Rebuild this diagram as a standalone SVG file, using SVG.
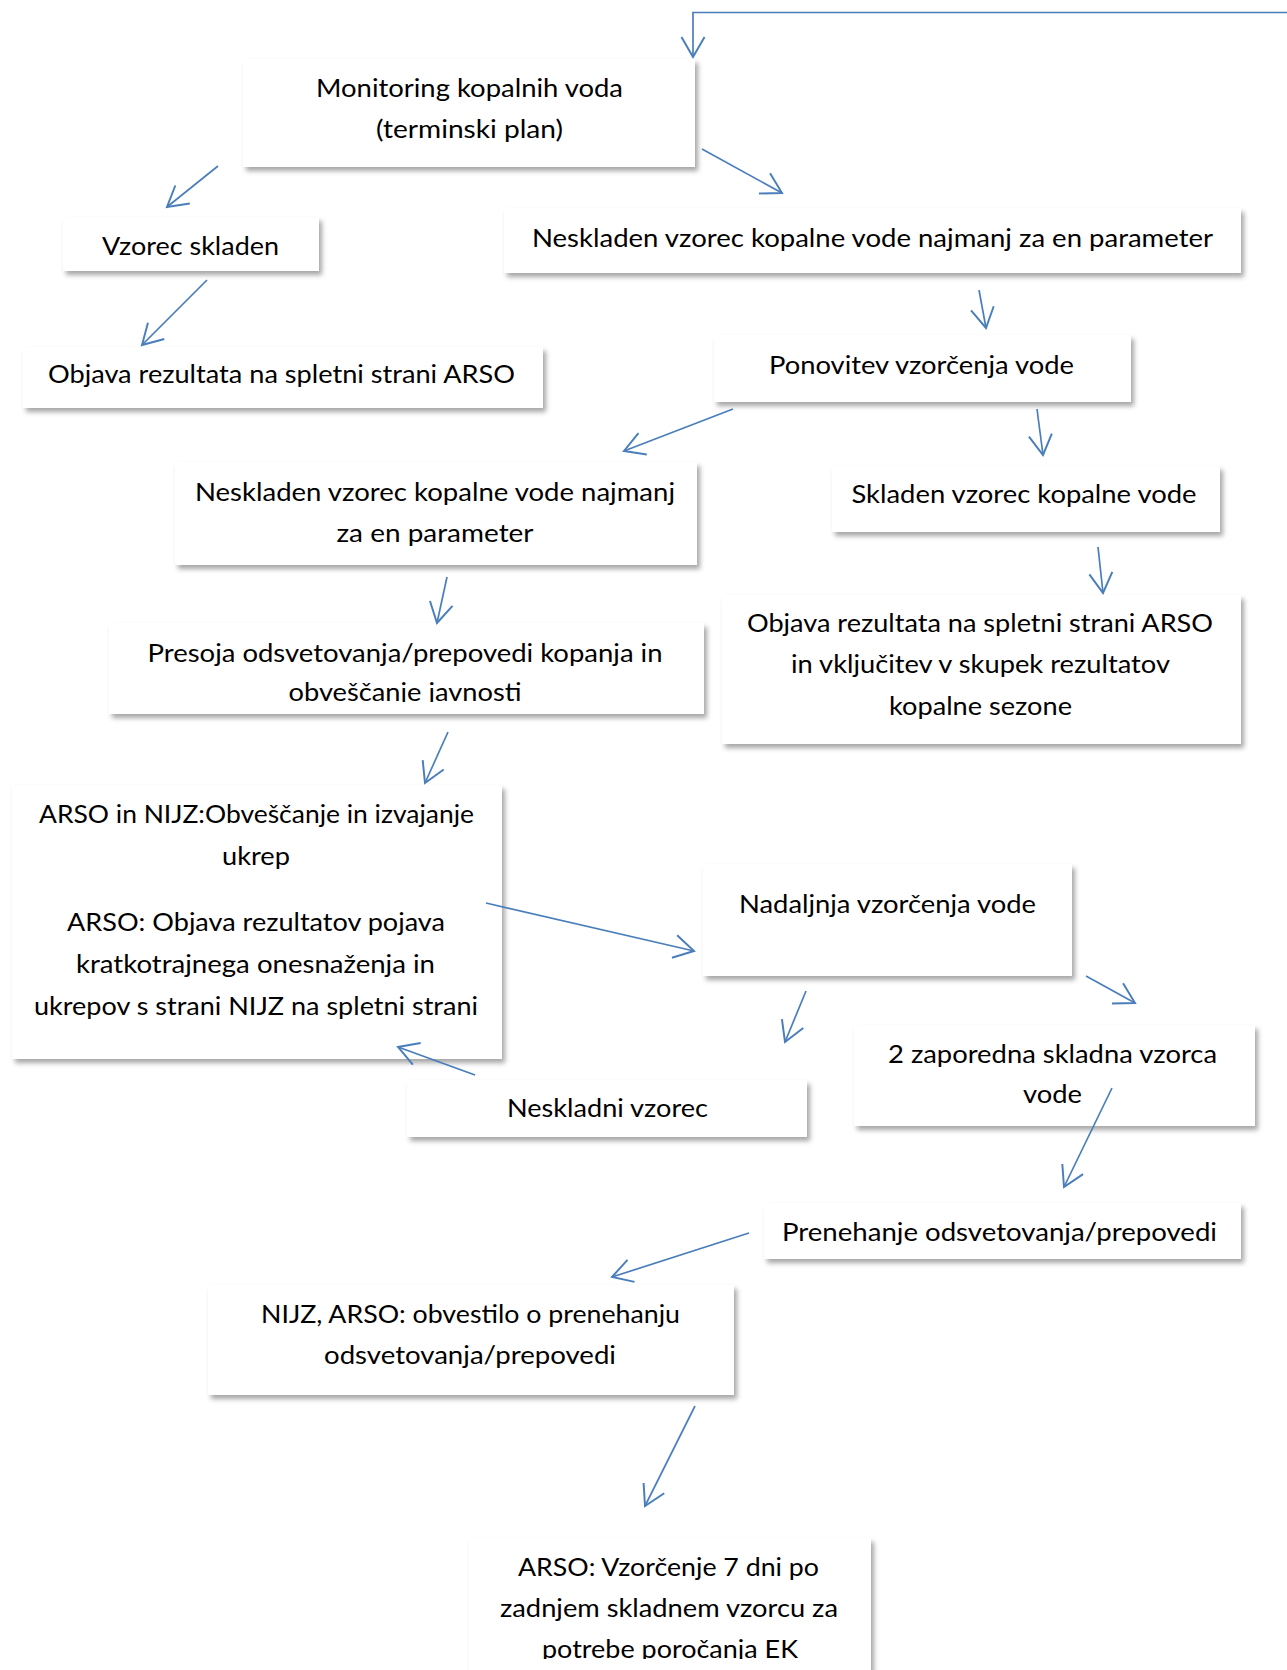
<svg xmlns="http://www.w3.org/2000/svg" width="1287" height="1670" viewBox="0 0 1287 1670">
<style>
.box{fill:#fff;filter:url(#sh)}
.t{font-family:Lato,"Open Sans","Liberation Sans",sans-serif;font-size:25px;fill:#000;text-anchor:middle}
.c{fill:none;stroke:#4A7EBB;stroke-width:1.7;marker-end:url(#ah)}
</style>
<defs>
<filter id="sh" x="-10%" y="-20%" width="125%" height="150%">
<feDropShadow dx="3" dy="4" stdDeviation="2.5" flood-color="#000" flood-opacity="0.35"/>
</filter>
<marker id="ah" markerUnits="userSpaceOnUse" markerWidth="30" markerHeight="30" viewBox="-22 -13 26 26" refX="0" refY="0" orient="auto">
<path d="M-17.3,-10 L0,0 L-17.3,10" fill="none" stroke="#4A7EBB" stroke-width="1.7"/>
</marker>
<clipPath id="clipPresoja"><rect x="109" y="623" width="595" height="79"/></clipPath>
<clipPath id="clipLast"><rect x="469" y="1538" width="402" height="121"/></clipPath>
</defs>
<rect width="1287" height="1670" fill="#fff"/>

<g id="n-monitoring">
<rect class="box" x="243" y="59" width="452" height="108"/>
<text class="t" x="469.5" y="97" textLength="307" lengthAdjust="spacingAndGlyphs">Monitoring kopalnih voda</text>
<text class="t" x="469.5" y="138" textLength="187" lengthAdjust="spacingAndGlyphs">(terminski plan)</text>
</g>
<g id="n-vzorec-skladen">
<rect class="box" x="63" y="217" width="256" height="54"/>
<text class="t" x="190.5" y="255" textLength="177" lengthAdjust="spacingAndGlyphs">Vzorec skladen</text>
</g>
<g id="n-neskladen1">
<rect class="box" x="504" y="208" width="737" height="65"/>
<text class="t" x="872.5" y="247" textLength="681" lengthAdjust="spacingAndGlyphs">Neskladen vzorec kopalne vode najmanj za en parameter</text>
</g>
<g id="n-objava1">
<rect class="box" x="23" y="347" width="520" height="61"/>
<text class="t" x="281.5" y="383" textLength="467" lengthAdjust="spacingAndGlyphs">Objava rezultata na spletni strani ARSO</text>
</g>
<g id="n-ponovitev">
<rect class="box" x="714" y="335" width="417" height="67"/>
<text class="t" x="921.5" y="374" textLength="305" lengthAdjust="spacingAndGlyphs">Ponovitev vzorčenja vode</text>
</g>
<g id="n-neskladen2">
<rect class="box" x="175" y="462" width="522" height="103"/>
<text class="t" x="435" y="501" textLength="480" lengthAdjust="spacingAndGlyphs">Neskladen vzorec kopalne vode najmanj</text>
<text class="t" x="435" y="542" textLength="197" lengthAdjust="spacingAndGlyphs">za en parameter</text>
</g>
<g id="n-skladen">
<rect class="box" x="832" y="466" width="388" height="66"/>
<text class="t" x="1024" y="503" textLength="345" lengthAdjust="spacingAndGlyphs">Skladen vzorec kopalne vode</text>
</g>
<g id="n-presoja">
<rect class="box" x="109" y="623" width="595" height="91"/>
<g clip-path="url(#clipPresoja)">
<text class="t" x="405" y="662" textLength="515" lengthAdjust="spacingAndGlyphs">Presoja odsvetovanja/prepovedi kopanja in</text>
<text class="t" x="405" y="701" textLength="233" lengthAdjust="spacingAndGlyphs">obveščanje javnosti</text>
</g>
</g>
<g id="n-objava2">
<rect class="box" x="722" y="595" width="519" height="149"/>
<text class="t" x="980" y="632" textLength="466" lengthAdjust="spacingAndGlyphs">Objava rezultata na spletni strani ARSO</text>
<text class="t" x="980.5" y="673" textLength="379" lengthAdjust="spacingAndGlyphs">in vključitev v skupek rezultatov</text>
<text class="t" x="980.5" y="715" textLength="183" lengthAdjust="spacingAndGlyphs">kopalne sezone</text>
</g>
<g id="n-arso-nijz">
<rect class="box" x="12" y="785" width="490" height="274"/>
<text class="t" x="256.5" y="823" textLength="435" lengthAdjust="spacingAndGlyphs">ARSO in NIJZ:Obveščanje in izvajanje</text>
<text class="t" x="256" y="865" textLength="68" lengthAdjust="spacingAndGlyphs">ukrep</text>
<text class="t" x="256" y="931" textLength="378" lengthAdjust="spacingAndGlyphs">ARSO: Objava rezultatov pojava</text>
<text class="t" x="255.5" y="973" textLength="359" lengthAdjust="spacingAndGlyphs">kratkotrajnega onesnaženja in</text>
<text class="t" x="256" y="1015" textLength="444" lengthAdjust="spacingAndGlyphs">ukrepov s strani NIJZ na spletni strani</text>
</g>
<g id="n-nadaljnja">
<rect class="box" x="703" y="864" width="369" height="112"/>
<text class="t" x="887.5" y="913" textLength="297" lengthAdjust="spacingAndGlyphs">Nadaljnja vzorčenja vode</text>
</g>
<g id="n-neskladni">
<rect class="box" x="407" y="1080" width="400" height="57"/>
<text class="t" x="607.5" y="1117" textLength="201" lengthAdjust="spacingAndGlyphs">Neskladni vzorec</text>
</g>
<g id="n-dva-zaporedna">
<rect class="box" x="854" y="1025" width="401" height="101"/>
<text class="t" x="1052.5" y="1063" textLength="329" lengthAdjust="spacingAndGlyphs">2 zaporedna skladna vzorca</text>
<text class="t" x="1052.5" y="1103" textLength="59" lengthAdjust="spacingAndGlyphs">vode</text>
</g>
<g id="n-prenehanje">
<rect class="box" x="764" y="1203" width="477" height="56"/>
<text class="t" x="999.5" y="1241" textLength="435" lengthAdjust="spacingAndGlyphs">Prenehanje odsvetovanja/prepovedi</text>
</g>
<g id="n-nijz-arso">
<rect class="box" x="208" y="1285" width="526" height="110"/>
<text class="t" x="470.5" y="1323" textLength="419" lengthAdjust="spacingAndGlyphs">NIJZ, ARSO: obvestilo o prenehanju</text>
<text class="t" x="470" y="1364" textLength="292" lengthAdjust="spacingAndGlyphs">odsvetovanja/prepovedi</text>
</g>
<g id="n-arso-vzorcenje">
<rect class="box" x="469" y="1538" width="402" height="160"/>
<g clip-path="url(#clipLast)">
<text class="t" x="668.5" y="1576" textLength="301" lengthAdjust="spacingAndGlyphs">ARSO: Vzorčenje 7 dni po</text>
<text class="t" x="669" y="1617" textLength="338" lengthAdjust="spacingAndGlyphs">zadnjem skladnem vzorcu za</text>
<text class="t" x="670" y="1658" textLength="256" lengthAdjust="spacingAndGlyphs">potrebe poročanja EK</text>
</g>
</g>

<g id="connectors">
<path class="c" d="M1287,12.5 H693 V57"/>
<path class="c" d="M218,166 L167,207"/>
<path class="c" d="M702,149 L782,193"/>
<path class="c" d="M207,280 L142,345"/>
<path class="c" d="M979,290 L986,328"/>
<path class="c" d="M733,409 L624,451"/>
<path class="c" d="M1037,409 L1043,455"/>
<path class="c" d="M447,577 L437,623"/>
<path class="c" d="M1098,547 L1103,593"/>
<path class="c" d="M448,732 L425,783"/>
<path class="c" d="M486,903 L694,951"/>
<path class="c" d="M806,991 L785,1042"/>
<path class="c" d="M1086,976 L1135,1003"/>
<path class="c" d="M475,1075 L398,1047"/>
<path class="c" d="M1112,1088 L1064,1187"/>
<path class="c" d="M749,1233 L612,1277"/>
<path class="c" d="M695,1406 L645,1506"/>
</g>
</svg>
